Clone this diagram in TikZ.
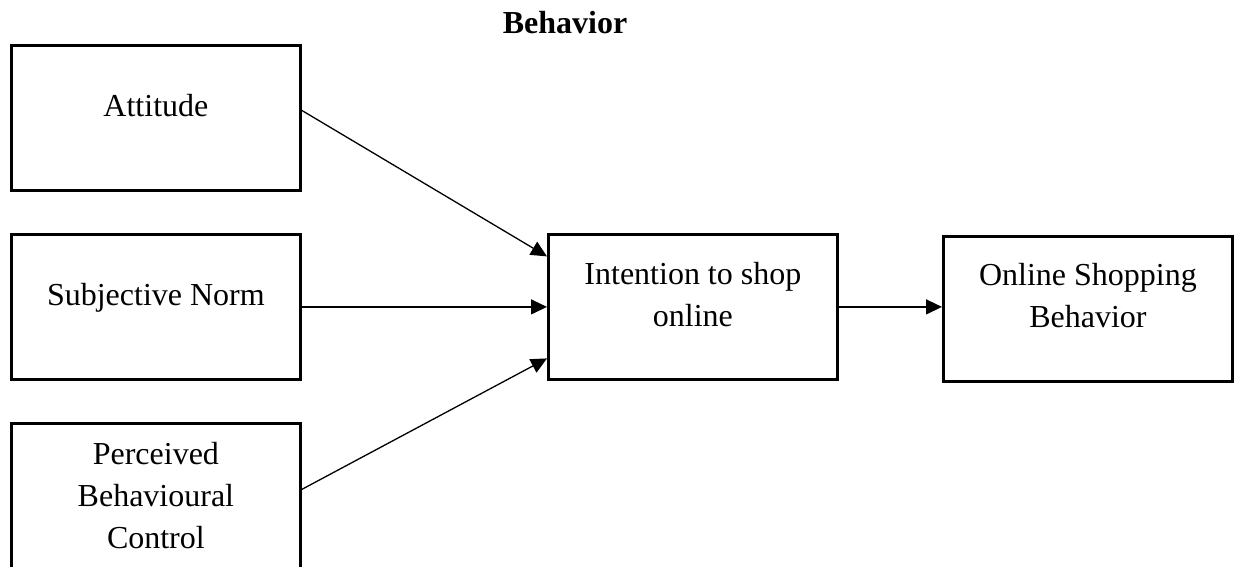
\documentclass[tikz,border=0pt]{standalone}
\usepackage{fontspec}
\setmainfont{Liberation Serif}
\usetikzlibrary{arrows.meta,calc}
% text block of a construct box: first baseline #1 below the top edge
\newcommand\boxlines[2]{\begin{minipage}[t][145pt][t]{289pt}\centering\rule{0pt}{#1}#2\end{minipage}}
\begin{document}
\begin{tikzpicture}[x=1pt,y=-1pt,
  font=\fontsize{32}{42}\selectfont,
  construct/.style={draw, line width=2.8pt, inner sep=0pt, anchor=north west},
  link/.style={-{Triangle[length=16pt,width=15pt]}, line width=1.3pt}]
\useasboundingbox (0,0) rectangle (1237,566);

\node[anchor=base, font=\fontsize{32}{42}\selectfont\bfseries] (title) at (565,33) {Behavior};

\node[construct] (att) at (10,44)  {\boxlines{71pt}{Attitude}};
\node[construct] (sub) at (10,233) {\boxlines{71pt}{Subjective Norm}};
\node[construct] (pbc) at (10,422) {\boxlines{41pt}{Perceived\\Behavioural\\Control}};
\node[construct] (int) at (547,233) {\boxlines{50pt}{Intention to shop\\online}};
\node[construct] (osb) at (942,235) {\boxlines{49pt}{Online Shopping\\Behavior}};

\draw[link] ([yshift=7.5pt]att.east) -- ([yshift=50.5pt]int.west);
\draw[link] (sub.east) -- (int.west);
\draw[link] ([yshift=6.5pt]pbc.east) -- ([yshift=-51.5pt]int.west);
\draw[link] (int.east) -- (int.east -| osb.west);
\end{tikzpicture}
\end{document}
